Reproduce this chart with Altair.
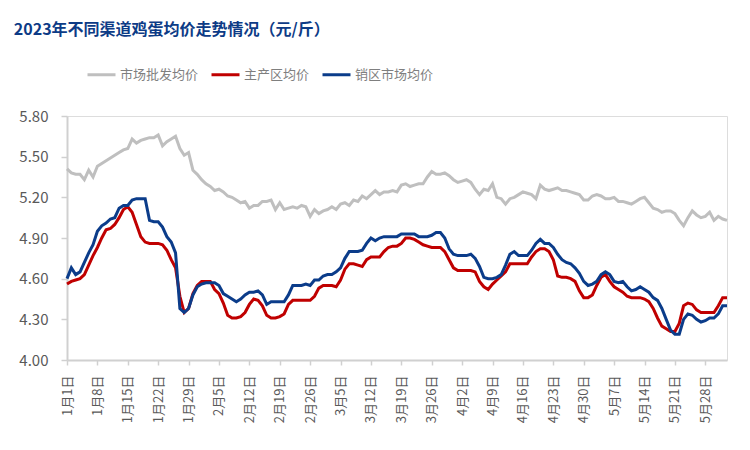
import altair as alt
import pandas as pd

start_date = "2023-01-01"
n_days = 153

series_names = ["市场批发均价", "主产区均价", "销区市场均价"]
series_colors = ["#bfbfbf", "#c00000", "#0b3c8a"]

wholesale = [
    5.41, 5.38, 5.37, 5.37, 5.33, 5.40, 5.35, 5.43, 5.45, 5.47,
    5.49, 5.51, 5.53, 5.55, 5.56, 5.63, 5.60, 5.62, 5.63, 5.64,
    5.64, 5.66, 5.58, 5.61, 5.63, 5.65, 5.56, 5.51, 5.53, 5.40,
    5.37, 5.33, 5.30, 5.28, 5.25, 5.26, 5.24, 5.21, 5.20, 5.18,
    5.16, 5.17, 5.12, 5.14, 5.14, 5.17, 5.17, 5.18, 5.11, 5.16,
    5.11, 5.12, 5.13, 5.12, 5.14, 5.13, 5.06, 5.11, 5.08, 5.10,
    5.11, 5.13, 5.11, 5.15, 5.16, 5.14, 5.18, 5.17, 5.21, 5.19,
    5.22, 5.25, 5.22, 5.24, 5.24, 5.25, 5.24, 5.29, 5.30, 5.28,
    5.29, 5.30, 5.30, 5.35, 5.39, 5.37, 5.37, 5.38, 5.36, 5.33,
    5.31, 5.32, 5.33, 5.31, 5.26, 5.22, 5.26, 5.25, 5.30, 5.20,
    5.19, 5.15, 5.19, 5.20, 5.22, 5.24, 5.23, 5.22, 5.19, 5.29,
    5.26, 5.25, 5.26, 5.27, 5.25, 5.25, 5.24, 5.23, 5.22, 5.18,
    5.18, 5.21, 5.22, 5.21, 5.19, 5.19, 5.20, 5.17, 5.17, 5.16,
    5.15, 5.17, 5.19, 5.20, 5.16, 5.12, 5.11, 5.09, 5.10, 5.10,
    5.08, 5.03, 4.99, 5.05, 5.10, 5.07, 5.05, 5.06, 5.09, 5.03,
    5.06, 5.04, 5.03,
]

producing = [
    4.56, 4.58, 4.59, 4.60, 4.63, 4.70, 4.77, 4.83, 4.90, 4.96,
    4.97, 5.00, 5.05, 5.11, 5.13, 5.09, 5.00, 4.91, 4.87, 4.86,
    4.86, 4.86, 4.85, 4.81, 4.74, 4.68, 4.47, 4.35, 4.38, 4.49,
    4.55, 4.58, 4.58, 4.58, 4.52, 4.49, 4.42, 4.33, 4.31, 4.31,
    4.32, 4.35, 4.41, 4.45, 4.44, 4.40, 4.33, 4.31, 4.31, 4.32,
    4.34, 4.41, 4.44, 4.44, 4.44, 4.44, 4.44, 4.47, 4.53, 4.55,
    4.55, 4.55, 4.54, 4.59, 4.67, 4.71, 4.71, 4.70, 4.69, 4.74,
    4.76, 4.76, 4.76, 4.80, 4.83, 4.84, 4.84, 4.86, 4.90, 4.90,
    4.89, 4.87, 4.85, 4.84, 4.83, 4.83, 4.83, 4.80, 4.74, 4.68,
    4.66, 4.66, 4.66, 4.66, 4.65, 4.58, 4.54, 4.52, 4.56, 4.59,
    4.62, 4.65, 4.71, 4.71, 4.71, 4.71, 4.71, 4.76, 4.80, 4.82,
    4.82, 4.80, 4.74, 4.62, 4.61, 4.61, 4.60, 4.58, 4.51, 4.46,
    4.46, 4.48, 4.55, 4.61, 4.63, 4.58, 4.54, 4.52, 4.50, 4.47,
    4.46, 4.46, 4.46, 4.45, 4.43, 4.38, 4.31, 4.25, 4.23, 4.21,
    4.21, 4.27, 4.40, 4.42, 4.41, 4.37, 4.35, 4.35, 4.35, 4.35,
    4.40, 4.46, 4.46,
]

selling = [
    4.60, 4.68, 4.63, 4.65, 4.72, 4.79, 4.85, 4.95, 4.99, 5.01,
    5.04, 5.05, 5.12, 5.14, 5.14, 5.18, 5.19, 5.19, 5.19, 5.03,
    5.02, 5.02, 4.98, 4.91, 4.87, 4.79, 4.38, 4.35, 4.38, 4.48,
    4.54, 4.56, 4.57, 4.57, 4.57, 4.55, 4.49, 4.47, 4.45, 4.43,
    4.45, 4.48, 4.50, 4.50, 4.51, 4.48, 4.41, 4.43, 4.43, 4.43,
    4.43, 4.48, 4.55, 4.55, 4.55, 4.56, 4.55, 4.59, 4.59, 4.62,
    4.63, 4.63, 4.65, 4.68, 4.75, 4.80, 4.80, 4.80, 4.81, 4.86,
    4.90, 4.88, 4.90, 4.91, 4.91, 4.91, 4.91, 4.93, 4.93, 4.93,
    4.93, 4.91, 4.91, 4.91, 4.92, 4.94, 4.94, 4.90, 4.82, 4.78,
    4.77, 4.77, 4.77, 4.78, 4.75, 4.69, 4.61, 4.60, 4.60, 4.61,
    4.63, 4.70, 4.78, 4.80, 4.77, 4.77, 4.77, 4.81, 4.86, 4.89,
    4.86, 4.86, 4.83, 4.78, 4.74, 4.72, 4.71, 4.68, 4.64, 4.58,
    4.55, 4.56, 4.58, 4.63, 4.65, 4.63, 4.58, 4.57, 4.58, 4.54,
    4.51, 4.52, 4.54, 4.52, 4.50, 4.46, 4.44, 4.38, 4.30, 4.22,
    4.19, 4.19, 4.30, 4.34, 4.33, 4.30, 4.28, 4.29, 4.31, 4.31,
    4.34, 4.40, 4.40,
]

y_ticks = [4.00, 4.30, 4.60, 4.90, 5.20, 5.50, 5.80]
tick_dates = [(1, 1), (1, 8), (1, 15), (1, 22), (1, 29), (2, 5), (2, 12), (2, 19),
              (2, 26), (3, 5), (3, 12), (3, 19), (3, 26), (4, 2), (4, 9), (4, 16),
              (4, 23), (4, 30), (5, 7), (5, 14), (5, 21), (5, 28)]

dates = pd.date_range(start_date, periods=n_days).strftime("%Y-%m-%d").tolist()
rows = []
for name, vals, order in zip(series_names, [wholesale, producing, selling], [0, 1, 2]):
    for d, v in zip(dates, vals):
        rows.append({"date": d, "price": v, "series": name, "order": order})
df = pd.DataFrame(rows)

font = "Noto Sans CJK SC"
axis_grey = "#d0d0d0"
label_grey = "#595959"

x_enc = alt.X(
    "date:T",
    scale=alt.Scale(type="utc", domain=[alt.DateTime(year=2023, month=1, date=1, utc=True),
                                        alt.DateTime(year=2023, month=6, date=2, utc=True)], nice=False),
    axis=alt.Axis(
        title=None,
        values=[alt.DateTime(year=2023, month=m, date=d, utc=True) for m, d in tick_dates],
        labelExpr="(utcmonth(datum.value)+1)+'月'+utcdate(datum.value)+'日'",
        labelAngle=270,
        labelAlign="right",
        labelBaseline="middle",
        labelPadding=10,
        labelFontSize=13,
        labelColor=label_grey,
        labelFont=font,
        domainColor=axis_grey,
        domainWidth=2,
        tickColor=axis_grey,
        tickWidth=1.5,
        tickSize=5,
        grid=False,
        labelOverlap=False,
    ),
)

y_enc = alt.Y(
    "price:Q",
    scale=alt.Scale(domain=[4.0, 5.8], nice=False, zero=False),
    axis=alt.Axis(
        title=None,
        values=y_ticks,
        format=".2f",
        labelFontSize=15,
        labelColor=label_grey,
        labelFont=font,
        labelPadding=13,
        domainColor=axis_grey,
        domainWidth=2,
        tickColor=axis_grey,
        tickWidth=1.5,
        tickSize=6,
        grid=False,
    ),
)

chart = alt.Chart(df).mark_line(strokeWidth=3, interpolate="linear").encode(
    x=x_enc,
    y=y_enc,
    color=alt.Color(
        "series:N",
        scale=alt.Scale(domain=series_names, range=series_colors),
        sort=series_names,
        legend=alt.Legend(
            title=None,
            orient="none",
            legendX=19,
            legendY=-57,
            direction="horizontal",
            symbolType="stroke",
            symbolSize=784,
            symbolStrokeWidth=3,
            labelFontSize=13,
            labelColor="#7f7f7f",
            labelFont=font,
            columnPadding=6,
            labelOffset=3,
        ),
    ),
    order=alt.Order("order:Q"),
    detail="series:N",
).properties(
    width=660,
    height=244,
    title=alt.TitleParams(
        text="2023年不同渠道鸡蛋均价走势情况（元/斤）",
        anchor="start",
        frame="bounds",
        fontSize=16,
        font=font,
        fontWeight="bold",
        color="#0d3b86",
        offset=21,
        dx=-5,
    ),
    autosize=alt.AutoSizeParams(type="none"),
    padding={"left": 59, "top": 108, "right": 15, "bottom": 70},
).configure_view(stroke=None).configure(background="white")

chart.save("out.html", embed_options={"renderer": "svg", "actions": False})
